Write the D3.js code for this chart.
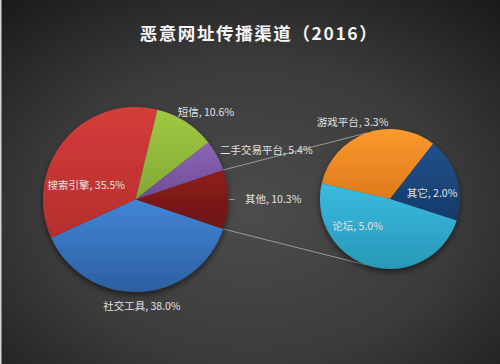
<!DOCTYPE html>
<html>
<head>
<meta charset="utf-8">
<script src="https://cdn.jsdelivr.net/npm/d3@7"></script>
<style>
  body { margin: 0; background: #222; }
  text { font-family: "Noto Sans CJK SC", "Noto Sans", sans-serif; }
</style>
</head>
<body>
<script>
var width = 500;
var height = 364;

// data (percent of all malicious URL traffic)
var mainCategories = ["其他", "社交工具", "搜索引擎", "短信", "二手交易平台"];
var mainValues = [10.3, 38.0, 35.5, 10.6, 5.4];
var subCategories = ["游戏平台", "其它", "论坛"];
var subValues = [3.3, 2.0, 5.0];

var colors = {
    "其他": ["#901f1c", "#6a1311"],
    "社交工具": ["#4186d6", "#2c5fa2"],
    "搜索引擎": ["#d43d3a", "#b52e2c"],
    "短信": ["#a2c944", "#82a834"],
    "二手交易平台": ["#8c66b6", "#6d4d94"],
    "游戏平台": ["#fa992e", "#df7a1b"],
    "其它": ["#20528c", "#153a68"],
    "论坛": ["#3abbe0", "#2898b8"]
};

var svg = d3.select("body").append("svg")
    .attr("width", width)
    .attr("height", height);

var defs = svg.append("defs");

// background radial gradient
var bg = defs.append("radialGradient")
    .attr("id", "bg")
    .attr("cx", "50%").attr("cy", "58%").attr("r", "75%");
bg.append("stop").attr("offset", "0%").attr("stop-color", "#4c4c4c");
bg.append("stop").attr("offset", "55%").attr("stop-color", "#3b3b3b");
bg.append("stop").attr("offset", "100%").attr("stop-color", "#1b1b1b");

Object.keys(colors).forEach(function(k, i) {
    var lg = defs.append("linearGradient")
        .attr("id", "grad" + i)
        .attr("x1", "0%").attr("y1", "0%").attr("x2", "0%").attr("y2", "100%");
    lg.append("stop").attr("offset", "0%").attr("stop-color", colors[k][0]);
    lg.append("stop").attr("offset", "100%").attr("stop-color", colors[k][1]);
    colors[k].id = "grad" + i;
});

var shadow = defs.append("filter").attr("id", "shadow")
    .attr("x", "-20%").attr("y", "-20%").attr("width", "140%").attr("height", "140%");
shadow.append("feDropShadow")
    .attr("dx", 0).attr("dy", 3).attr("stdDeviation", 3)
    .attr("flood-color", "#000").attr("flood-opacity", 0.55);

svg.append("rect")
    .attr("width", width).attr("height", height)
    .attr("fill", "url(#bg)");
svg.append("rect")
    .attr("width", 1.5).attr("height", height)
    .attr("fill", "#d6d6d6");

// title
svg.append("text")
    .attr("x", 259)
    .attr("y", 40)
    .attr("text-anchor", "middle")
    .attr("fill", "#f4f4f4")
    .style("font-size", "17.5px")
    .style("font-weight", "bold")
    .style("letter-spacing", "1.6px")
    .text("恶意网址传播渠道（2016）");

// main pie
var mainCx = 135.5, mainCy = 199.5, mainR = 92.5;
var mainTotal = d3.sum(mainValues);
var otherSpan = mainValues[0] / mainTotal * 2 * Math.PI;
var mainStart = Math.PI / 2 - otherSpan / 2;

var mainPie = d3.pie().sort(null)
    .startAngle(mainStart).endAngle(mainStart + 2 * Math.PI);
var mainArcs = mainPie(mainValues);
mainArcs.forEach(function(d, i) { d.name = mainCategories[i]; });

var arcMain = d3.arc().innerRadius(0).outerRadius(mainR);

// secondary pie
var subCx = 390, subCy = 199, subR = 70;
var subStart = -77.3 * Math.PI / 180;
var subPie = d3.pie().sort(null)
    .startAngle(subStart).endAngle(subStart + 2 * Math.PI);
var subArcs = subPie(subValues);
subArcs.forEach(function(d, i) { d.name = subCategories[i]; });
var arcSub = d3.arc().innerRadius(0).outerRadius(subR);

// connector lines between "其他" slice and the secondary pie
function polar(cx, cy, r, a) {
    // a is d3 angle (clockwise from 12 o'clock)
    return [cx + r * Math.sin(a), cy - r * Math.cos(a)];
}
var other = mainArcs[0];
var subJoin = 109; // degrees from 3 o'clock, up and down
var connectors = [
    [polar(mainCx, mainCy, mainR, other.startAngle), polar(subCx, subCy, subR, (90 - subJoin) * Math.PI / 180)],
    [polar(mainCx, mainCy, mainR, other.endAngle), polar(subCx, subCy, subR, (90 + subJoin) * Math.PI / 180)]
];

svg.selectAll(".connector")
    .data(connectors)
    .enter()
    .append("line")
    .attr("class", "connector")
    .attr("x1", function(d) { return d[0][0]; })
    .attr("y1", function(d) { return d[0][1]; })
    .attr("x2", function(d) { return d[1][0]; })
    .attr("y2", function(d) { return d[1][1]; })
    .attr("stroke", "#9a9a9a")
    .attr("stroke-width", 1);

var gMain = svg.append("g")
    .attr("transform", "translate(" + mainCx + "," + mainCy + ")")
    .attr("filter", "url(#shadow)");
gMain.selectAll("path")
    .data(mainArcs)
    .enter()
    .append("path")
    .attr("d", arcMain)
    .attr("fill", function(d) { return "url(#" + colors[d.name].id + ")"; });

var gSub = svg.append("g")
    .attr("transform", "translate(" + subCx + "," + subCy + ")")
    .attr("filter", "url(#shadow)");
gSub.selectAll("path")
    .data(subArcs)
    .enter()
    .append("path")
    .attr("d", arcSub)
    .attr("fill", function(d) { return "url(#" + colors[d.name].id + ")"; });

// label placement: radius along slice middle + nudge
var labelPlace = {
    "短信": { r: 104, dx: 14, dy: 0, anchor: "middle" },
    "二手交易平台": { r: 104, dx: -7, dy: 0, anchor: "start" },
    "其他": { r: 109.5, dx: 0, dy: 0, anchor: "start" },
    "社交工具": { r: 106.6, dx: 1, dy: 0, anchor: "middle" },
    "搜索引擎": { r: 51, dx: -10, dy: 18, anchor: "middle" },
    "游戏平台": { r: 81.6, dx: -10, dy: 0, anchor: "middle" },
    "其它": { r: 44, dx: 0, dy: 7, anchor: "middle" },
    "论坛": { r: 28, dx: -25, dy: 0, anchor: "middle" }
};

function drawLabels(g, arcs) {
    g.selectAll("text.lbl")
        .data(arcs)
        .enter()
        .append("text")
        .attr("class", "lbl")
        .attr("transform", function(d) {
            var p = labelPlace[d.name];
            var c = d3.arc().innerRadius(p.r).outerRadius(p.r).centroid(d);
            return "translate(" + (c[0] + p.dx) + "," + (c[1] + p.dy) + ")";
        })
        .attr("text-anchor", function(d) { return labelPlace[d.name].anchor; })
        .attr("dy", "0.36em")
        .attr("fill", "#e2e2e2")
        .style("font-size", "10.5px")
        .text(function(d) { return d.name + ", " + d.value.toFixed(1) + "%"; });
}

var gMainLbl = svg.append("g")
    .attr("transform", "translate(" + mainCx + "," + mainCy + ")");
drawLabels(gMainLbl, mainArcs);
var gSubLbl = svg.append("g")
    .attr("transform", "translate(" + subCx + "," + subCy + ")");
drawLabels(gSubLbl, subArcs);

// short leader line for the "其他" label
var leadIn = d3.arc().innerRadius(mainR + 1).outerRadius(mainR + 1).centroid(other);
var leadOut = d3.arc().innerRadius(mainR + 7).outerRadius(mainR + 7).centroid(other);
gMainLbl.append("line")
    .attr("x1", leadIn[0]).attr("y1", leadIn[1])
    .attr("x2", leadOut[0]).attr("y2", leadOut[1])
    .attr("stroke", "#9a9a9a")
    .attr("stroke-width", 1);
</script>
</body>
</html>
